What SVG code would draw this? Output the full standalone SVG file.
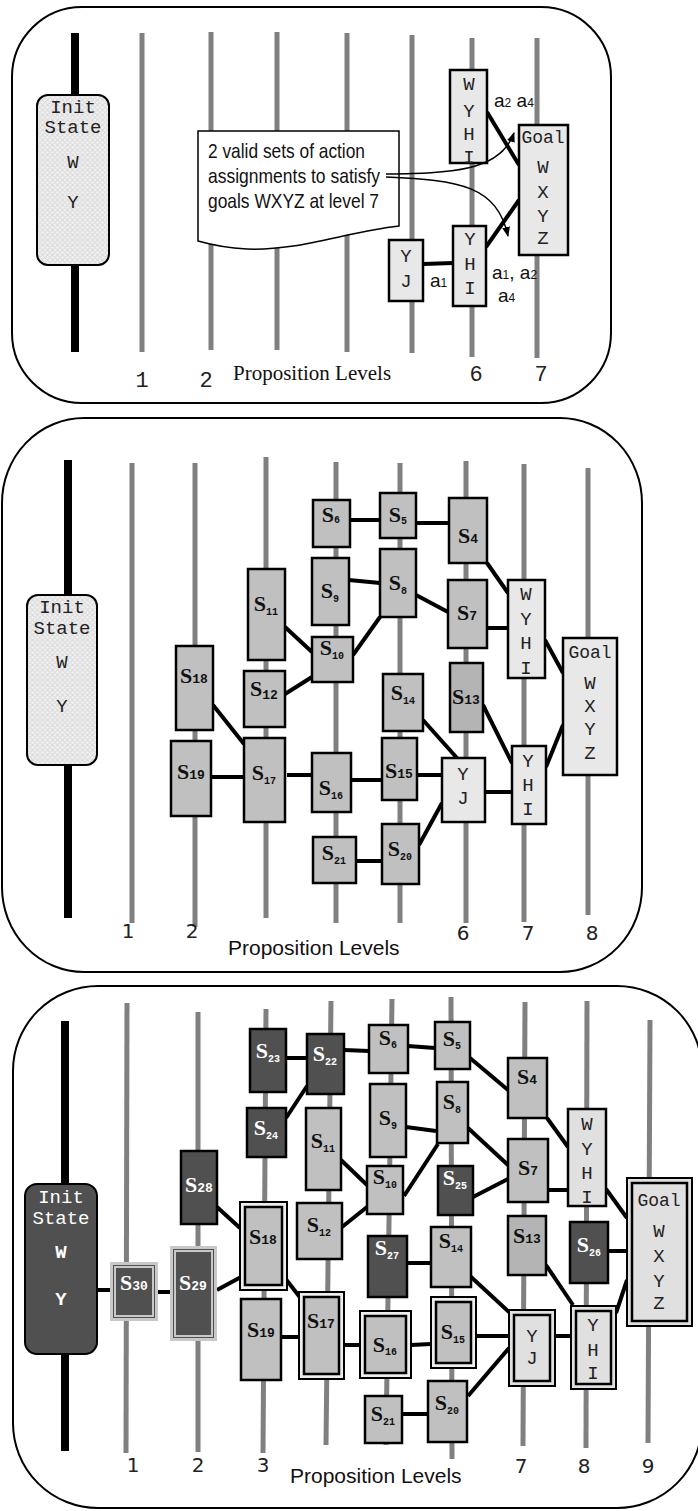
<svg xmlns="http://www.w3.org/2000/svg" width="698" height="1511" viewBox="0 0 698 1511">
  <style>
    .frame{fill:none;stroke:#000;stroke-width:2}
    .lvl{stroke:#808080;stroke-width:5}
    .bar{stroke:#000;stroke-width:8}
    .conn line{stroke:#000;stroke-width:4}
    .s{fill:#c0c0c0;stroke:#000;stroke-width:2.5}
    .s13{fill:#b4b4b4;stroke:#000;stroke-width:2.5}
    .d{fill:#505050;stroke:#000;stroke-width:2.5}
    .p{fill:#e8e8e8;stroke:#000;stroke-width:2.5}
    .p3{fill:#e0e0e0;stroke:#000;stroke-width:2.5}
    .dbo{fill:#eeeeee;stroke:#000;stroke-width:2}
    .dbi{stroke:#000;stroke-width:2.5}
    .dko{fill:#505050;stroke:#c8c8c8;stroke-width:3}
    .dki{fill:#505050;stroke:#c8c8c8;stroke-width:2}
    .lab{font-family:"Liberation Serif","Times New Roman",serif;font-weight:bold;font-size:22px;text-anchor:middle;fill:#111}
    .lab.w{fill:#fff}
    .lab tspan{font-family:"Liberation Mono",monospace}
    .lab .a{font-size:13px}
    .lab .b{font-size:10px}
    .mono{font-family:"Liberation Mono",monospace;font-size:19px;text-anchor:middle;fill:#222}
    .num1{font-family:"Liberation Mono",monospace;font-size:22px;text-anchor:middle;fill:#222}
    .num{font-family:"DejaVu Sans",sans-serif;font-size:20px;text-anchor:middle;fill:#222}
    .axis{font-family:"Liberation Sans",Arial,sans-serif;font-size:21px;fill:#111}
    .axis1{font-family:"Liberation Serif","Times New Roman",serif;font-size:21px;fill:#111}
    .note{font-family:"Liberation Sans",Arial,sans-serif;font-size:21px;fill:#111}
    .act{font-family:"Liberation Sans",Arial,sans-serif;font-size:19px;fill:#111}
    .act tspan{font-size:12px}
    .arr{fill:none;stroke:#000;stroke-width:1.5;marker-end:url(#ah)}
  </style>
  <defs>
    <pattern id="hatch" width="5" height="5" patternUnits="userSpaceOnUse">
      <rect width="5" height="5" fill="#efefef"/>
      <path d="M0,2.5 L2.5,0 L5,2.5 L2.5,5 Z" fill="none" stroke="#cfcfcf" stroke-width="0.8"/>
    </pattern>
    <marker id="ah" viewBox="0 0 10 10" refX="9" refY="5" markerWidth="10" markerHeight="10" markerUnits="userSpaceOnUse" orient="auto">
      <path d="M0,1 L10,5 L0,9 Z" fill="#000"/>
    </marker>
  </defs>
  <rect width="698" height="1511" fill="#fff"/>

  <!-- ===== Panel 1: level-7 goal search ===== -->
  <g id="panel1">
    <rect class="frame" x="12" y="7" width="599" height="396" rx="70" ry="70"/>
    <g id="p1-levels">
      <line class="bar" x1="75" y1="33" x2="75" y2="352"/>
      <line class="lvl" x1="142" y1="33" x2="142" y2="352"/>
      <line class="lvl" x1="211" y1="32" x2="211" y2="350"/>
      <line class="lvl" x1="277" y1="32" x2="277" y2="350"/>
      <line class="lvl" x1="347" y1="33" x2="347" y2="352"/>
      <line class="lvl" x1="412" y1="35" x2="412" y2="353"/>
      <line class="lvl" x1="472" y1="38" x2="472" y2="357"/>
      <line class="lvl" x1="537" y1="38" x2="537" y2="358"/>
    </g>
    <g id="p1-connectors" class="conn">
      <line x1="423" y1="264" x2="453" y2="263"/>
      <line x1="487" y1="112" x2="519" y2="165"/>
      <line x1="486" y1="247" x2="519" y2="200"/>
    </g>
    <g id="p1-init">
      <rect x="37" y="95" width="72" height="170" rx="11" fill="url(#hatch)" stroke="#000" stroke-width="2"/>
      <text class="mono" x="73" y="113">Init</text>
      <text class="mono" x="73" y="133">State</text>
      <text class="mono" x="73" y="168">W</text>
      <text class="mono" x="73" y="208">Y</text>
    </g>
    <g id="p1-callout">
      <path d="M198,131 L399,131 L399,226 C345,232 300,251 247,249 C228,248 212,245 198,241 Z" fill="#fff" stroke="#000" stroke-width="1.5"/>
      <text class="note" x="208" y="158" textLength="157" lengthAdjust="spacingAndGlyphs">2 valid sets of action</text>
      <text class="note" x="208" y="183" textLength="172" lengthAdjust="spacingAndGlyphs">assignments to satisfy</text>
      <text class="note" x="208" y="208" textLength="171" lengthAdjust="spacingAndGlyphs">goals WXYZ at level 7</text>
    </g>
    <g id="p1-wyhi">
      <rect class="p" x="450" y="70" width="37" height="93"/>
      <text class="mono" x="469" y="90">W</text>
      <text class="mono" x="469" y="117">Y</text>
      <text class="mono" x="469" y="140">H</text>
      <text class="mono" x="469" y="163">I</text>
    </g>
    <g id="p1-goal">
      <rect class="p" x="519" y="125" width="49" height="130"/>
      <text class="mono" x="543" y="143" style="font-size:18px">Goal</text>
      <text class="mono" x="543" y="173">W</text>
      <text class="mono" x="543" y="198">X</text>
      <text class="mono" x="543" y="222">Y</text>
      <text class="mono" x="543" y="244">Z</text>
    </g>
    <g id="p1-yj">
      <rect class="p" x="389" y="240" width="34" height="61"/>
      <text class="mono" x="406" y="262">Y</text>
      <text class="mono" x="406" y="287">J</text>
    </g>
    <g id="p1-yhi">
      <rect class="p" x="453" y="226" width="33" height="80"/>
      <text class="mono" x="470" y="245">Y</text>
      <text class="mono" x="470" y="270">H</text>
      <text class="mono" x="470" y="294">I</text>
    </g>
    <g id="p1-arrows">
      <path class="arr" d="M386,174 C450,173 500,172 514,133"/>
      <path class="arr" d="M386,177 C460,180 497,186 508,236"/>
    </g>
    <g id="p1-actions">
      <text class="act" x="494" y="107">a<tspan>2</tspan> a<tspan>4</tspan></text>
      <text class="act" x="430" y="287">a<tspan>1</tspan></text>
      <text class="act" x="492" y="279">a<tspan>1</tspan>, a<tspan>2</tspan></text>
      <text class="act" x="498" y="302">a<tspan>4</tspan></text>
    </g>
    <g id="p1-labels">
      <text class="num1" x="142" y="387">1</text>
      <text class="num1" x="206" y="387">2</text>
      <text class="axis1" x="233" y="380">Proposition Levels</text>
      <text class="num1" x="476" y="381">6</text>
      <text class="num1" x="541" y="381">7</text>
    </g>
  </g>

  <!-- ===== Panel 2: level-8 expansion ===== -->
  <g id="panel2">
    <rect class="frame" x="2" y="418" width="640" height="554" rx="82" ry="85"/>
    <g id="p2-levels">
      <line class="bar" x1="68" y1="460" x2="68" y2="918"/>
      <line class="lvl" x1="132" y1="463" x2="132" y2="923"/>
      <line class="lvl" x1="195" y1="463" x2="195" y2="927"/>
      <line class="lvl" x1="266" y1="457" x2="266" y2="918"/>
      <line class="lvl" x1="336" y1="462" x2="336" y2="923"/>
      <line class="lvl" x1="400" y1="463" x2="400" y2="923"/>
      <line class="lvl" x1="466" y1="461" x2="466" y2="923"/>
      <line class="lvl" x1="524" y1="464" x2="524" y2="922"/>
      <line class="lvl" x1="588" y1="468" x2="588" y2="915"/>
    </g>
    <g id="p2-connectors" class="conn">
      <line x1="350" y1="520" x2="380" y2="520"/>
      <line x1="416" y1="523" x2="449" y2="523"/>
      <line x1="349" y1="580" x2="380" y2="583"/>
      <line x1="416" y1="595" x2="448" y2="612"/>
      <line x1="487" y1="563" x2="508" y2="593"/>
      <line x1="487" y1="628" x2="508" y2="628"/>
      <line x1="545" y1="640" x2="563" y2="673"/>
      <line x1="353" y1="655" x2="380" y2="617"/>
      <line x1="285" y1="627" x2="312" y2="652"/>
      <line x1="285" y1="694" x2="312" y2="677"/>
      <line x1="213" y1="705" x2="244" y2="744"/>
      <line x1="211" y1="777" x2="244" y2="777"/>
      <line x1="287" y1="775" x2="312" y2="775"/>
      <line x1="351" y1="780" x2="383" y2="780"/>
      <line x1="356" y1="861" x2="382" y2="861"/>
      <line x1="417" y1="775" x2="442" y2="775"/>
      <line x1="423" y1="720" x2="457" y2="758"/>
      <line x1="419" y1="845" x2="442" y2="803"/>
      <line x1="485" y1="792" x2="512" y2="792"/>
      <line x1="483" y1="705" x2="512" y2="763"/>
      <line x1="546" y1="767" x2="563" y2="725"/>
    </g>
    <g id="p2-init">
      <rect x="27" y="595" width="70" height="170" rx="11" fill="url(#hatch)" stroke="#000" stroke-width="2"/>
      <text class="mono" x="62" y="613">Init</text>
      <text class="mono" x="62" y="634">State</text>
      <text class="mono" x="62" y="668">W</text>
      <text class="mono" x="62" y="712">Y</text>
    </g>
    <g id="p2-s6"><rect class="s" x="313" y="500" width="37" height="47"/><text class="lab" x="331" y="522">S<tspan class="b" dy="1">6</tspan></text></g>
    <g id="p2-s5"><rect class="s" x="380" y="493" width="36" height="45"/><text class="lab" x="398" y="522">S<tspan class="b" dy="2">5</tspan></text></g>
    <g id="p2-s4"><rect class="s" x="449" y="498" width="38" height="65"/><text class="lab" x="468" y="543">S<tspan class="a">4</tspan></text></g>
    <g id="p2-s9"><rect class="s" x="312" y="558" width="37" height="67"/><text class="lab" x="330" y="598">S<tspan class="b" dy="4">9</tspan></text></g>
    <g id="p2-s8"><rect class="s" x="380" y="549" width="36" height="68"/><text class="lab" x="398" y="590">S<tspan class="b" dy="4">8</tspan></text></g>
    <g id="p2-s7"><rect class="s" x="448" y="580" width="39" height="68"/><text class="lab" x="467" y="620">S<tspan class="a">7</tspan></text></g>
    <g id="p2-s11"><rect class="s" x="248" y="569" width="37" height="91"/><text class="lab" x="266" y="611">S<tspan class="b" dy="4">11</tspan></text></g>
    <g id="p2-s10"><rect class="s" x="312" y="637" width="41" height="45"/><text class="lab" x="332" y="655">S<tspan class="b" dy="4">10</tspan></text></g>
    <g id="p2-s12"><rect class="s" x="244" y="671" width="41" height="56"/><text class="lab" x="264" y="696">S<tspan class="a" dy="3">12</tspan></text></g>
    <g id="p2-s18"><rect class="s" x="176" y="646" width="37" height="84"/><text class="lab" x="194" y="683">S<tspan class="a">18</tspan></text></g>
    <g id="p2-s19"><rect class="s" x="171" y="741" width="40" height="75"/><text class="lab" x="191" y="779">S<tspan class="a">19</tspan></text></g>
    <g id="p2-s17"><rect class="s" x="244" y="738" width="41" height="84"/><text class="lab" x="264" y="780">S<tspan class="b" dy="4">17</tspan></text></g>
    <g id="p2-s16"><rect class="s" x="312" y="753" width="39" height="59"/><text class="lab" x="331" y="795">S<tspan class="b" dy="4">16</tspan></text></g>
    <g id="p2-s14"><rect class="s" x="383" y="674" width="40" height="57"/><text class="lab" x="403" y="700">S<tspan class="b" dy="4">14</tspan></text></g>
    <g id="p2-s13"><rect class="s13" x="450" y="663" width="33" height="69"/><text class="lab" x="466" y="704">S<tspan class="a">13</tspan></text></g>
    <g id="p2-s15"><rect class="s" x="382" y="738" width="35" height="62"/><text class="lab" x="399" y="778">S<tspan class="a">15</tspan></text></g>
    <g id="p2-s20"><rect class="s" x="382" y="824" width="37" height="60"/><text class="lab" x="400" y="856">S<tspan class="b" dy="4">20</tspan></text></g>
    <g id="p2-s21"><rect class="s" x="313" y="837" width="43" height="46"/><text class="lab" x="334" y="860">S<tspan class="b" dy="4">21</tspan></text></g>
    <g id="p2-wyhi">
      <rect class="p" x="508" y="580" width="37" height="98"/>
      <text class="mono" x="526" y="600">W</text>
      <text class="mono" x="526" y="625">Y</text>
      <text class="mono" x="526" y="649">H</text>
      <text class="mono" x="526" y="674">I</text>
    </g>
    <g id="p2-goal">
      <rect class="p" x="563" y="638" width="54" height="137"/>
      <text class="mono" x="590" y="658" style="font-size:18px">Goal</text>
      <text class="mono" x="590" y="689">W</text>
      <text class="mono" x="590" y="712">X</text>
      <text class="mono" x="590" y="735">Y</text>
      <text class="mono" x="590" y="759">Z</text>
    </g>
    <g id="p2-yj">
      <rect class="p" x="442" y="758" width="43" height="64"/>
      <text class="mono" x="463" y="780">Y</text>
      <text class="mono" x="463" y="804">J</text>
    </g>
    <g id="p2-yhi">
      <rect class="p" x="512" y="746" width="34" height="78"/>
      <text class="mono" x="528" y="767">Y</text>
      <text class="mono" x="528" y="791">H</text>
      <text class="mono" x="528" y="815">I</text>
    </g>
    <g id="p2-labels">
      <text class="num" x="128" y="938">1</text>
      <text class="num" x="192" y="938">2</text>
      <text class="axis" x="228" y="955">Proposition Levels</text>
      <text class="num" x="463" y="940">6</text>
      <text class="num" x="528" y="940">7</text>
      <text class="num" x="592" y="940">8</text>
    </g>
  </g>

  <!-- ===== Panel 3: level-9 expansion ===== -->
  <g id="panel3">
    <rect class="frame" x="13" y="986" width="689" height="522" rx="85" ry="85"/>
    <g id="p3-levels">
      <line class="bar" x1="65" y1="1021" x2="65" y2="1451"/>
      <line class="lvl" x1="127" y1="1003" x2="126" y2="1453"/>
      <line class="lvl" x1="198" y1="1012" x2="198" y2="1452"/>
      <line class="lvl" x1="266" y1="1009" x2="263" y2="1453"/>
      <line class="lvl" x1="331" y1="1001" x2="326" y2="1445"/>
      <line class="lvl" x1="392" y1="999" x2="386" y2="1445"/>
      <line class="lvl" x1="451" y1="997" x2="452" y2="1459"/>
      <line class="lvl" x1="525" y1="1002" x2="523" y2="1446"/>
      <line class="lvl" x1="587" y1="1001" x2="586" y2="1448"/>
      <line class="lvl" x1="650" y1="1020" x2="648" y2="1443"/>
    </g>
    <g id="p3-connectors" class="conn">
      <line x1="97" y1="1290" x2="110" y2="1290"/>
      <line x1="158" y1="1292" x2="170" y2="1292"/>
      <line x1="217" y1="1290" x2="241" y2="1277"/>
      <line x1="217" y1="1207" x2="240" y2="1228"/>
      <line x1="285" y1="1278" x2="302" y2="1300"/>
      <line x1="281" y1="1337" x2="299" y2="1337"/>
      <line x1="344" y1="1345" x2="360" y2="1345"/>
      <line x1="411" y1="1345" x2="431" y2="1344"/>
      <line x1="476" y1="1336" x2="509" y2="1336"/>
      <line x1="470" y1="1276" x2="509" y2="1312"/>
      <line x1="468" y1="1396" x2="509" y2="1348"/>
      <line x1="402" y1="1414" x2="428" y2="1414"/>
      <line x1="555" y1="1336" x2="571" y2="1336"/>
      <line x1="546" y1="1265" x2="573" y2="1305"/>
      <line x1="616" y1="1313" x2="627" y2="1280"/>
      <line x1="608" y1="1251" x2="627" y2="1251"/>
      <line x1="407" y1="1263" x2="431" y2="1263"/>
      <line x1="548" y1="1190" x2="568" y2="1190"/>
      <line x1="547" y1="1118" x2="568" y2="1147"/>
      <line x1="606" y1="1189" x2="627" y2="1218"/>
      <line x1="470" y1="1058" x2="508" y2="1090"/>
      <line x1="408" y1="1046" x2="435" y2="1048"/>
      <line x1="344" y1="1050" x2="369" y2="1051"/>
      <line x1="286" y1="1058" x2="307" y2="1058"/>
      <line x1="286" y1="1118" x2="307" y2="1086"/>
      <line x1="406" y1="1127" x2="436" y2="1131"/>
      <line x1="468" y1="1128" x2="508" y2="1165"/>
      <line x1="438" y1="1144" x2="404" y2="1196"/>
      <line x1="341" y1="1160" x2="367" y2="1185"/>
      <line x1="342" y1="1227" x2="367" y2="1207"/>
      <line x1="473" y1="1197" x2="508" y2="1179"/>
    </g>
    <g id="p3-init">
      <rect x="25" y="1184" width="72" height="170" rx="12" fill="#505050" stroke="#000" stroke-width="2"/>
      <text class="mono" x="61" y="1203" style="fill:#fff">Init</text>
      <text class="mono" x="61" y="1224" style="fill:#fff">State</text>
      <text class="mono" x="61" y="1258" style="fill:#fff;font-weight:bold">W</text>
      <text class="mono" x="61" y="1305" style="fill:#fff;font-weight:bold">Y</text>
    </g>
    <g id="p3-s23"><rect class="d" x="250" y="1029" width="36" height="63"/><text class="lab w" x="268" y="1058">S<tspan class="b" dy="4">23</tspan></text></g>
    <g id="p3-s22"><rect class="d" x="307" y="1034" width="37" height="60"/><text class="lab w" x="325" y="1061">S<tspan class="b" dy="4">22</tspan></text></g>
    <g id="p3-s6"><rect class="s" x="369" y="1025" width="39" height="48"/><text class="lab" x="388" y="1045">S<tspan class="b" dy="3">6</tspan></text></g>
    <g id="p3-s5"><rect class="s" x="435" y="1022" width="35" height="47"/><text class="lab" x="452" y="1046">S<tspan class="b" dy="3">5</tspan></text></g>
    <g id="p3-s4"><rect class="s" x="508" y="1058" width="39" height="60"/><text class="lab" x="527" y="1084">S<tspan class="a">4</tspan></text></g>
    <g id="p3-s24"><rect class="d" x="247" y="1108" width="39" height="49"/><text class="lab w" x="266" y="1135">S<tspan class="b" dy="4">24</tspan></text></g>
    <g id="p3-s11"><rect class="s" x="306" y="1108" width="35" height="82"/><text class="lab" x="323" y="1148">S<tspan class="b" dy="4">11</tspan></text></g>
    <g id="p3-s9"><rect class="s" x="370" y="1084" width="36" height="73"/><text class="lab" x="388" y="1125">S<tspan class="b" dy="4">9</tspan></text></g>
    <g id="p3-s8"><rect class="s" x="437" y="1082" width="31" height="61"/><text class="lab" x="452" y="1109">S<tspan class="b" dy="4">8</tspan></text></g>
    <g id="p3-s7"><rect class="s" x="508" y="1139" width="40" height="63"/><text class="lab" x="528" y="1175">S<tspan class="a">7</tspan></text></g>
    <g id="p3-s28"><rect class="d" x="181" y="1151" width="36" height="73"/><text class="lab w" x="199" y="1192">S<tspan class="a">28</tspan></text></g>
    <g id="p3-s10"><rect class="s" x="367" y="1166" width="36" height="48"/><text class="lab" x="385" y="1184">S<tspan class="b" dy="4">10</tspan></text></g>
    <g id="p3-s25"><rect class="d" x="438" y="1166" width="35" height="49"/><text class="lab w" x="455" y="1185">S<tspan class="b" dy="4">25</tspan></text></g>
    <g id="p3-s13"><rect class="s13" x="508" y="1216" width="38" height="59"/><text class="lab" x="527" y="1243">S<tspan class="a">13</tspan></text></g>
    <g id="p3-s26"><rect class="d" x="570" y="1222" width="38" height="61"/><text class="lab w" x="589" y="1252">S<tspan class="b" dy="4">26</tspan></text></g>
    <g id="p3-s12"><rect class="s" x="297" y="1203" width="45" height="56"/><text class="lab" x="319" y="1232">S<tspan class="b" dy="4">12</tspan></text></g>
    <g id="p3-s27"><rect class="d" x="368" y="1236" width="39" height="61"/><text class="lab w" x="387" y="1255">S<tspan class="b" dy="4">27</tspan></text></g>
    <g id="p3-s14"><rect class="s" x="431" y="1227" width="40" height="60"/><text class="lab" x="451" y="1248">S<tspan class="b" dy="4">14</tspan></text></g>
    <g id="p3-s18">
      <rect class="dbo" x="240" y="1202" width="47" height="88"/>
      <rect class="dbi" x="245" y="1207" width="37" height="78" fill="#c0c0c0"/>
      <text class="lab" x="263" y="1244">S<tspan class="a">18</tspan></text>
    </g>
    <g id="p3-s30">
      <rect class="dko" x="111.5" y="1263.5" width="45" height="56"/>
      <rect class="dki" x="115" y="1267" width="38" height="49"/>
      <text class="lab w" x="134" y="1290">S<tspan class="a">30</tspan></text>
    </g>
    <g id="p3-s29">
      <rect class="dko" x="171.5" y="1247.5" width="44" height="92"/>
      <rect class="dki" x="175" y="1251" width="37" height="85"/>
      <text class="lab w" x="193" y="1290">S<tspan class="a">29</tspan></text>
    </g>
    <g id="p3-s19"><rect class="s" x="241" y="1299" width="40" height="81"/><text class="lab" x="261" y="1337">S<tspan class="a">19</tspan></text></g>
    <g id="p3-s17">
      <rect class="dbo" x="299" y="1292" width="45" height="87"/>
      <rect class="dbi" x="304" y="1297" width="35" height="77" fill="#c0c0c0"/>
      <text class="lab" x="321" y="1328">S<tspan class="a">17</tspan></text>
    </g>
    <g id="p3-s16">
      <rect class="dbo" x="360" y="1311" width="51" height="67"/>
      <rect class="dbi" x="365" y="1316" width="41" height="57" fill="#c0c0c0"/>
      <text class="lab" x="385" y="1352">S<tspan class="b" dy="3">16</tspan></text>
    </g>
    <g id="p3-s15">
      <rect class="dbo" x="431" y="1297" width="45" height="71"/>
      <rect class="dbi" x="436" y="1302" width="35" height="61" fill="#c0c0c0"/>
      <text class="lab" x="453" y="1339">S<tspan class="b" dy="4">15</tspan></text>
    </g>
    <g id="p3-s20"><rect class="s" x="428" y="1381" width="39" height="61"/><text class="lab" x="447" y="1410">S<tspan class="b" dy="4">20</tspan></text></g>
    <g id="p3-s21"><rect class="s" x="365" y="1396" width="37" height="47"/><text class="lab" x="383" y="1421">S<tspan class="b" dy="4">21</tspan></text></g>
    <g id="p3-wyhi">
      <rect class="p3" x="568" y="1109" width="38" height="97"/>
      <text class="mono" x="587" y="1130">W</text>
      <text class="mono" x="587" y="1155">Y</text>
      <text class="mono" x="587" y="1179">H</text>
      <text class="mono" x="587" y="1203">I</text>
    </g>
    <g id="p3-goal">
      <rect class="dbo" x="627" y="1178" width="65" height="148" style="fill:#e0e0e0"/>
      <rect class="dbi" x="632" y="1183" width="55" height="138" fill="#e0e0e0"/>
      <text class="mono" x="659" y="1206" style="font-size:18px">Goal</text>
      <text class="mono" x="659" y="1237">W</text>
      <text class="mono" x="659" y="1262">X</text>
      <text class="mono" x="659" y="1287">Y</text>
      <text class="mono" x="659" y="1309">Z</text>
    </g>
    <g id="p3-yj">
      <rect class="dbo" x="509" y="1310" width="46" height="76" style="fill:#e0e0e0"/>
      <rect class="dbi" x="514" y="1315" width="36" height="66" fill="#e0e0e0"/>
      <text class="mono" x="532" y="1342">Y</text>
      <text class="mono" x="532" y="1364">J</text>
    </g>
    <g id="p3-yhi">
      <rect class="dbo" x="571" y="1306" width="45" height="83" style="fill:#e0e0e0"/>
      <rect class="dbi" x="576" y="1311" width="35" height="73" fill="#e0e0e0"/>
      <text class="mono" x="593" y="1331">Y</text>
      <text class="mono" x="593" y="1356">H</text>
      <text class="mono" x="593" y="1379">I</text>
    </g>
    <g id="p3-labels">
      <text class="num" x="133" y="1472">1</text>
      <text class="num" x="198" y="1472">2</text>
      <text class="num" x="263" y="1472">3</text>
      <text class="axis" x="290" y="1483">Proposition Levels</text>
      <text class="num" x="521" y="1473">7</text>
      <text class="num" x="584" y="1473">8</text>
      <text class="num" x="648" y="1473">9</text>
    </g>
  </g>
</svg>
